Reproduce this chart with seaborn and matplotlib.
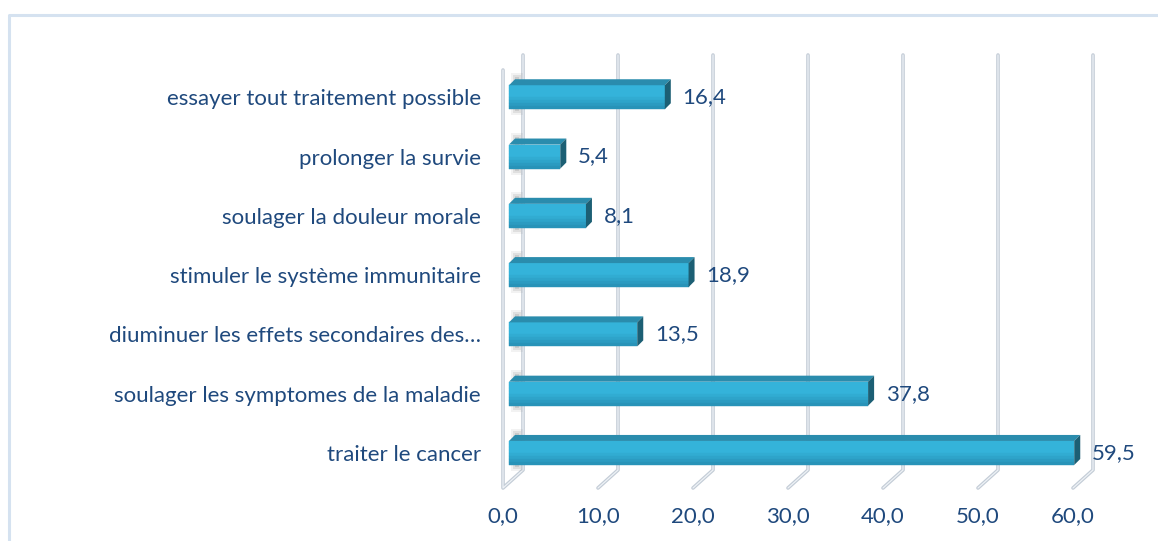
import matplotlib
matplotlib.use('Agg')
import matplotlib.pyplot as plt
import matplotlib.transforms as mtrans
from matplotlib.patches import Polygon
from matplotlib.lines import Line2D
from matplotlib.colors import to_rgb
import seaborn as sns
import pandas as pd

# Data (top to bottom)
categories = ['essayer tout traitement possible',
              'prolonger la survie',
              'soulager la douleur morale',
              'stimuler le système immunitaire',
              'diuminuer les effets secondaires des…',
              'soulager les symptomes de la maladie',
              'traiter le cancer']
values = [16.4, 5.4, 8.1, 18.9, 13.5, 37.8, 59.5]
xticks = [0, 10, 20, 30, 40, 50, 60]

df = pd.DataFrame({'cat': categories, 'val': values})

W, H = 1158, 541
txt_color = '#1F497D'
front_col = '#34B3DA'
low_col = '#2893B8'
top_col = '#2A8CAD'
side_col = '#1C5F74'
grid_dark = '#C3CCD6'
grid_light = '#EEF2F6'
fsize = 16

sns.set_style('white')
plt.rcParams['font.family'] = ['Lato', 'DejaVu Sans']

fig = plt.figure(figsize=(W / 100, H / 100), dpi=100)
# axes in pixels: left 503, right 1073, top 67.6, bottom 482.6
ax = fig.add_axes([503 / W, (H - 482.6) / H, 570 / W, 415 / H])

sns.barplot(data=df, x='val', y='cat', orient='h', width=0.405,
            color=front_col, saturation=1, linewidth=0, ax=ax, zorder=3)
ax.set_xlim(0, 60)
ax.set_ylim(len(categories) - 0.5, -0.5)
for s in ax.spines.values():
    s.set_visible(False)
ax.set_xlabel('')
ax.set_ylabel('')
ax.set_xticks(xticks)
ax.set_xticklabels([f'{v:.1f}'.replace('.', ',') for v in xticks])
ax.tick_params(axis='x', length=0, pad=17, labelsize=fsize, labelcolor=txt_color)
ax.tick_params(axis='y', length=0, pad=16, labelsize=fsize, labelcolor=txt_color)

ident = mtrans.IdentityTransform()


def px(x, y):
    # image pixel coords (top-left origin) -> display coords
    return (x, H - y)


# 3D-ish gridlines / wall
shift = 6      # bars sit slightly behind the front plane
depth = 20
y_back_top, y_back_bot, y_front_bot = 55, 470, 488
for v in xticks:
    xf = ax.transData.transform((v, 0))[0]
    xb = xf + depth
    pts = [px(xb, y_back_top), px(xb, y_back_bot), px(xf, y_front_bot)]
    if v == 0:
        pts = pts + [px(xf, 70)]
    xs, ys = zip(*pts)
    for lw, c in [(2.6, grid_dark), (0.9, grid_light)]:
        ax.add_line(Line2D(xs, ys, transform=ident, color=c, lw=lw,
                           clip_on=False, zorder=1, solid_capstyle='round'))

# 3D faces on the bars
bars = list(ax.containers[0])
dx, dy = 6, 6
shift_tr = ax.transData + mtrans.Affine2D().translate(shift, 0)
c_hi, c_lo = to_rgb(front_col), to_rgb(low_col)
nband = 8
for p in bars:
    (x0, y0), (x1, y1) = ax.transData.transform(
        [(p.get_x(), p.get_y()), (p.get_x() + p.get_width(), p.get_y() + p.get_height())])
    p.set_transform(shift_tr)
    x0 += shift
    x1 += shift
    ytop, ybot = max(y0, y1), min(y0, y1)
    hgt = ytop - ybot
    # soft shadow on the left wall
    for k, a in enumerate([0.10, 0.16, 0.22]):
        ax.add_patch(Polygon([(x0 + 2 + k * 2, ybot - 6 + k * 2), (x0 + 14 - k * 2, ybot - 6 + k * 2),
                              (x0 + 14 - k * 2, ytop + 12 - k * 2), (x0 + 2 + k * 2, ytop + 12 - k * 2)],
                             closed=True, transform=ident, facecolor='#808080', alpha=a,
                             edgecolor='none', clip_on=False, zorder=2))
    # vertical gradient on the front face (lighter in the upper half)
    for i in range(nband):
        t = i / (nband - 1)
        f = max(0.0, (t - 0.45) / 0.55)
        col = tuple(h + (l - h) * f for h, l in zip(c_hi, c_lo))
        ya = ytop - hgt * i / nband
        yb = ytop - hgt * (i + 1) / nband
        ax.add_patch(Polygon([(x0, ya), (x1, ya), (x1, yb), (x0, yb)], closed=True,
                             transform=ident, facecolor=col, edgecolor=col, lw=0.3,
                             clip_on=False, zorder=3.5))
    ax.add_patch(Polygon([(x0, ytop), (x1, ytop), (x1 + dx, ytop + dy), (x0 + dx, ytop + dy)],
                         closed=True, transform=ident, facecolor=top_col, edgecolor='none',
                         clip_on=False, zorder=3.6))
    ax.add_patch(Polygon([(x1, ytop), (x1, ybot), (x1 + dx, ybot + dy), (x1 + dx, ytop + dy)],
                         closed=True, transform=ident, facecolor=side_col, edgecolor='none',
                         clip_on=False, zorder=3.6))

ax.bar_label(ax.containers[0], labels=[f'{v:.1f}'.replace('.', ',') for v in values],
             padding=17, fontsize=fsize, color=txt_color)

# outer frame of the chart area
fig.add_artist(Line2D([9, 9, W], [0, H - 15, H - 15], transform=ident,
                      color='#D5E2F0', lw=2.2))

plt.savefig('out.png', dpi=100)
plt.close()
